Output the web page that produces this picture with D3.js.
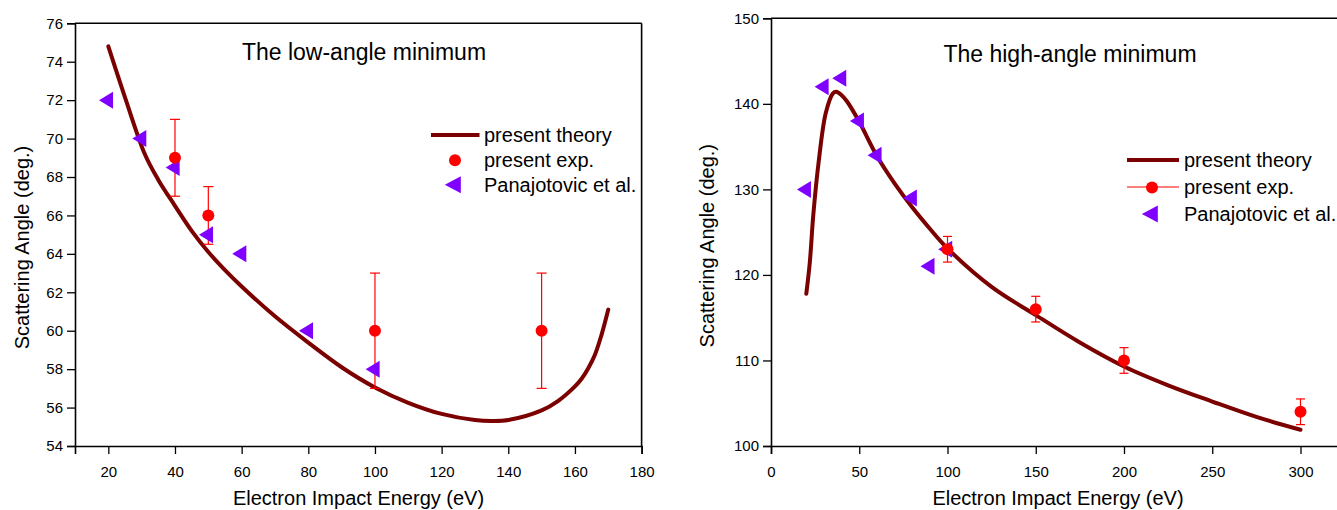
<!DOCTYPE html>
<html><head><meta charset="utf-8">
<script src="https://cdn.jsdelivr.net/npm/d3@7"></script>
<style>
html,body{margin:0;padding:0;background:#fff;overflow:hidden}
svg{display:block;font-family:"Liberation Sans",Arial,sans-serif}
</style></head>
<body>
<svg id="c" width="1337" height="510"></svg>
<script>
// ---------- data: low-angle panel ----------
const lowTheoryE = [20,25,31,35,40,45,50,55,60,70,80,90,100,110,120,130,135,140,150,155,160,162,164,166,168,170];
const lowTheoryA = [74.8,72.15,69.17,67.85,66.5,65.2,64.1,63.15,62.3,60.75,59.38,58.1,57.05,56.25,55.67,55.35,55.3,55.35,55.85,56.35,57.1,57.5,58.05,58.75,59.8,61.1];
const lowExpE = [40,50,100,150];
const lowExpA = [69,66,60,60];
const lowExpLo = [67,64.5,57,57];
const lowExpHi = [71,67.5,63,63];
const lowPanE = [20,30,40,50,60,80,100];
const lowPanA = [72,70,68.5,65,64,60,58];
const lowXTicks = [20,40,60,80,100,120,140,160,180];
const lowYTicks = [54,56,58,60,62,64,66,68,70,72,74,76];

// ---------- data: high-angle panel ----------
const highTheoryE = [20,22,24,27,31,35,37,40,43,50,60,70,80,90,100,125,150,175,200,225,250,275,300];
const highTheoryA = [117.8,121.5,127.1,133.2,138.9,141.2,141.4,141.0,140.3,137.9,133.9,130.7,127.9,125.4,123.1,118.6,115.3,112.1,109.3,107.1,105.2,103.4,101.9];
const highExpE = [100,150,200,300];
const highExpA = [123,116,110,104];
const highExpLo = [121.5,114.5,108.5,102.5];
const highExpHi = [124.5,117.5,111.5,105.5];
const highPanE = [20,30,40,50,60,80,90,100];
const highPanA = [130,142,143,138,134,129,121,123];
const highXTicks = [0,50,100,150,200,250,300];
const highYTicks = [100,110,120,130,140,150];

const legendLabels = ["present theory","present exp.","Panajotovic et al."];

const C_TH = "#7b0000", C_EXP = "#ff0000", C_PAN = "#8000ff";
const FONT = '"Liberation Sans", Arial, sans-serif';
const svg = d3.select("#c");

function triPath(cx, cy, w, h){
  // left-pointing triangle with centroid at (cx,cy)
  return `M${cx - 2*w/3},${cy} L${cx + w/3},${cy - h/2} L${cx + w/3},${cy + h/2} Z`;
}

function panel(o){
  const g = svg.append("g");
  const x = d3.scaleLinear().domain(o.xDom).range(o.xRange);
  const y = d3.scaleLinear().domain(o.yDom).range(o.yRange);
  const [x0,x1] = o.xRange, [y0,y1] = o.yRange;

  // frame top/right
  g.append("line").attr("x1",x0).attr("x2",x1).attr("y1",y1).attr("y2",y1).attr("stroke","#000").attr("stroke-width",1.6);
  g.append("line").attr("x1",x1).attr("x2",x1).attr("y1",y1).attr("y2",y0).attr("stroke","#000").attr("stroke-width",1.6);

  // ticks
  const gx = g.append("g").attr("transform",`translate(0,${y0})`);
  gx.call(d3.axisBottom(x).tickValues(o.xMinor).tickSize(5).tickFormat(""));
  gx.call(d3.axisBottom(x).tickValues(o.xTicks).tickSize(8).tickPadding(12).tickFormat(d3.format("d")));
  const gy = g.append("g").attr("transform",`translate(${x0},0)`);
  gy.call(d3.axisLeft(y).tickValues(o.yMinor).tickSize(5).tickFormat(""));
  gy.call(d3.axisLeft(y).tickValues(o.yTicks).tickSize(8).tickPadding(4).tickFormat(d3.format("d")));
  [gx,gy].forEach(a=>{
    a.selectAll(".domain").attr("stroke","#000").attr("stroke-width",1.6);
    a.selectAll(".tick line").attr("stroke","#000").attr("stroke-width",1.3);
    a.selectAll("text").attr("font-family",FONT).attr("font-size",15).attr("fill","#000");
  });
  gx.selectAll("text").attr("dy","0.72em");

  // theory curve
  const line = d3.line().x(d=>x(d[0])).y(d=>y(d[1])).curve(d3.curveCatmullRom.alpha(0.5));
  g.append("path").datum(o.thE.map((e,i)=>[e,o.thA[i]]))
    .attr("d",line).attr("fill","none").attr("stroke",C_TH).attr("stroke-width",4).attr("stroke-linejoin","round").attr("stroke-linecap","round");

  // error bars
  const eb = g.append("g").attr("stroke",C_EXP).attr("stroke-width",1.2);
  o.exE.forEach((e,i)=>{
    const cx = x(e);
    eb.append("line").attr("x1",cx).attr("x2",cx).attr("y1",y(o.exLo[i])).attr("y2",y(o.exHi[i]));
    eb.append("line").attr("x1",cx-o.cap).attr("x2",cx+o.cap).attr("y1",y(o.exLo[i])).attr("y2",y(o.exLo[i]));
    eb.append("line").attr("x1",cx-o.cap).attr("x2",cx+o.cap).attr("y1",y(o.exHi[i])).attr("y2",y(o.exHi[i]));
  });

  // Panajotovic triangles
  g.append("g").selectAll("path").data(o.pE.map((e,i)=>[e,o.pA[i]])).join("path")
    .attr("d",d=>triPath(x(d[0]),y(d[1]),14,17)).attr("fill",C_PAN);

  // exp dots
  g.append("g").selectAll("circle").data(o.exE.map((e,i)=>[e,o.exA[i]])).join("circle")
    .attr("cx",d=>x(d[0])).attr("cy",d=>y(d[1])).attr("r",6).attr("fill",C_EXP);

  // title
  g.append("text").attr("x",o.title[1]).attr("y",o.title[2]).attr("text-anchor","middle")
    .attr("font-family",FONT).attr("font-size",23).text(o.title[0]);
  // axis labels
  g.append("text").attr("x",o.xLab[0]).attr("y",o.xLab[1]).attr("text-anchor","middle")
    .attr("font-family",FONT).attr("font-size",20).text("Electron Impact Energy (eV)");
  g.append("text").attr("transform",`translate(${o.yLab[0]},${o.yLab[1]}) rotate(-90)`).attr("text-anchor","middle")
    .attr("font-family",FONT).attr("font-size",20).text("Scattering Angle (deg.)");

  // legend
  const L = o.leg;
  const lg = g.append("g").attr("font-family",FONT).attr("font-size",20);
  lg.append("line").attr("x1",L.lx0).attr("x2",L.lx1).attr("y1",L.rows[0]-7).attr("y2",L.rows[0]-7)
    .attr("stroke",C_TH).attr("stroke-width",4);
  if (L.expLine) {
    lg.append("line").attr("x1",L.lx0).attr("x2",L.lx1).attr("y1",L.rows[1]-7).attr("y2",L.rows[1]-7)
      .attr("stroke",C_EXP).attr("stroke-width",1.2);
  }
  lg.append("circle").attr("cx",L.mx).attr("cy",L.rows[1]-6.5).attr("r",6).attr("fill",C_EXP);
  lg.append("path").attr("d",triPath(L.mx+0.5,L.rows[2]-7,16,17)).attr("fill",C_PAN);
  legendLabels.forEach((t,i)=>lg.append("text").attr("x",L.tx).attr("y",L.rows[i]).text(t));
}

panel({
  xDom:[10,180], xRange:[75,641.6], yDom:[54,76], yRange:[446,23.3],
  xTicks:lowXTicks, xMinor:d3.range(10,181,10), yTicks:lowYTicks, yMinor:d3.range(55,76,2),
  thE:lowTheoryE, thA:lowTheoryA, exE:lowExpE, exA:lowExpA, exLo:lowExpLo, exHi:lowExpHi,
  pE:lowPanE, pA:lowPanA, cap:5,
  title:["The low-angle minimum",364,60], xLab:[358.5,505], yLab:[28.5,247.5],
  leg:{lx0:431,lx1:479.5,tx:484,mx:455,rows:[142,166.7,191.7],expLine:false}
});

panel({
  xDom:[0,325], xRange:[771,771+325*1.765], yDom:[100,150], yRange:[446,18.3],
  xTicks:highXTicks, xMinor:d3.range(25,326,50), yTicks:highYTicks, yMinor:d3.range(105,150,10),
  thE:highTheoryE, thA:highTheoryA, exE:highExpE, exA:highExpA, exLo:highExpLo, exHi:highExpHi,
  pE:highPanE, pA:highPanA, cap:4.5,
  title:["The high-angle minimum",1070,61.7], xLab:[1058,505], yLab:[714,245.7],
  leg:{lx0:1127,lx1:1179,tx:1184,mx:1152,rows:[167,194,221],expLine:true}
});
</script>
</body></html>
